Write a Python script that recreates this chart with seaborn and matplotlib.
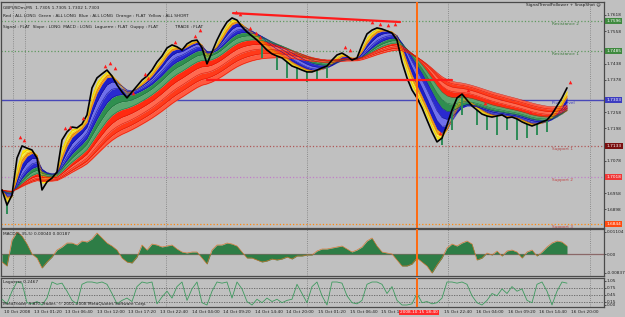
import numpy as np
import pandas as pd
import matplotlib
matplotlib.use("Agg")
import matplotlib.pyplot as plt
import matplotlib.transforms as mtransforms
from matplotlib import font_manager
import seaborn as sns

# ---------------- data ----------------
close = [1.6970, 1.6914, 1.6951, 1.7088, 1.7133, 1.7125, 1.7118, 1.7088, 1.6970, 1.7000,
         1.7014, 1.7037, 1.7155, 1.7185, 1.7203, 1.7200, 1.7214, 1.7248, 1.7348, 1.7385,
         1.7400, 1.7414, 1.7392, 1.7359, 1.7333, 1.7311, 1.7333, 1.7355, 1.7377, 1.7392,
         1.7414, 1.7444, 1.7466, 1.7496, 1.7507, 1.7500, 1.7488, 1.7511, 1.7522, 1.7525,
         1.7496, 1.7437, 1.7481, 1.7525, 1.7562, 1.7592, 1.7607, 1.7599, 1.7574, 1.7555,
         1.7540, 1.7525, 1.7507, 1.7488, 1.7474, 1.7466, 1.7459, 1.7444, 1.7429, 1.7422,
         1.7414, 1.7407, 1.7407, 1.7414, 1.7422, 1.7429, 1.7451, 1.7470, 1.7477, 1.7466,
         1.7451, 1.7459, 1.7507, 1.7548, 1.7562, 1.7570, 1.7566, 1.7559, 1.7551, 1.7525,
         1.7444, 1.7385, 1.7340, 1.7311, 1.7274, 1.7229, 1.7185, 1.7148, 1.7162, 1.7211,
         1.7266, 1.7311, 1.7325, 1.7303, 1.7281, 1.7266, 1.7251, 1.7244, 1.7240, 1.7244,
         1.7248, 1.7237, 1.7240, 1.7233, 1.7222, 1.7214, 1.7207, 1.7214, 1.7222, 1.7229,
         1.7251, 1.7281, 1.7311, 1.7348]

macd = [-0.004, -0.006, 0.007, 0.011, 0.009, 0.005, 0.0, -0.002, -0.007, -0.004,
        -0.0015, 0.002, 0.0035, 0.0055, 0.0055, 0.0045, 0.0065, 0.006, 0.0075, 0.0105,
        0.008, 0.0055, 0.004, 0.002, -0.002, -0.004, -0.0045, -0.0015, 0.0045, 0.002,
        0.005, 0.0045, 0.0035, 0.004, 0.0045, 0.0025, 0.001, 0.0005, 0.001, 0.001,
        -0.002, -0.005, 0.002, 0.0045, 0.0045, 0.0055, 0.005, 0.004, 0.001, -0.002,
        -0.002, -0.003, -0.004, -0.0035, -0.0025, -0.003, -0.0025, -0.0015, -0.0025, -0.001,
        -0.001, -0.0005, -0.0005, 0.0015, 0.0025, 0.0025, 0.003, 0.0035, 0.004, 0.0025,
        0.001, 0.002, 0.0035, 0.0065, 0.008, 0.004, 0.001, 0.0005, 0.0, -0.003,
        -0.006, -0.006, -0.005, -0.002, -0.004, -0.006, -0.0095, -0.0055, -0.002, 0.003,
        0.005, 0.004, 0.0055, 0.0065, 0.005, -0.003, -0.002, 0.0005, -0.0005, 0.0015,
        -0.001, 0.0015, 0.002, 0.001, -0.002, 0.001, 0.002, -0.001, 0.001, 0.0035,
        0.0055, 0.0065, 0.006, 0.004]

laguerre = [0.25, 0.05, 0.6, 1.0, 0.95, 0.1, 0.05, 0.15, 0.0, 0.3,
            1.0, 0.9, 0.95, 0.6, 0.2, 0.05, 0.9, 1.0, 1.0, 0.95,
            1.0, 0.9, 0.5, 0.05, 0.2, 0.3, 0.15, 0.8, 1.0, 0.95,
            1.0, 0.05, 0.35, 0.6, 0.3, 0.8, 1.0, 0.2, 0.7, 1.0,
            0.1, 0.0, 0.6, 1.0, 0.95, 1.0, 0.3, 1.0, 0.7, 0.15,
            0.0, 0.25, 0.1, 0.3, 0.15, 0.25, 0.1, 0.2, 0.25, 0.9,
            0.5, 0.1, 0.8, 1.0, 0.4, 0.0, 1.0, 1.0, 0.95, 0.4,
            0.1, 0.05, 0.2, 0.9, 1.0, 1.0, 0.9, 0.5, 0.8, 0.2,
            0.0, 0.0, 0.05, 0.5, 0.1, 0.15, 0.05, 0.1, 0.3, 1.0,
            1.0, 0.95, 1.0, 0.9, 0.4, 0.1, 0.0, 0.2, 0.5, 0.4,
            0.7, 0.5, 0.8, 0.6, 0.7, 0.2, 0.1, 0.9, 1.0, 0.6,
            0.0, 0.6, 1.0, 0.95]

fractal_idx = [3.6, 4.4, 12.6, 13.6, 16.2, 20.6, 21.6, 22.6, 26.2, 28.6, 29.2, 34.6, 38.6,
               39.6, 46.8, 47.6, 49.6, 50.8, 51.6, 68.6, 69.6, 74.0, 75.6, 77.2, 78.6,
               87.6, 93.2, 96.6, 105.6, 113.6]
fractal_price = [1.7166, 1.7155, 1.7200, 1.7203, 1.7237, 1.7429, 1.7440, 1.7422, 1.7329,
                 1.7399, 1.7385, 1.7518, 1.7540, 1.7562, 1.7629, 1.7622, 1.7570, 1.7551,
                 1.7537, 1.7499, 1.7488, 1.7592, 1.7585, 1.7581, 1.7585, 1.7181, 1.7340,
                 1.7292, 1.7259, 1.7370]

green_idx = [1, 52, 55, 57, 59, 61, 63, 65, 88, 90, 92, 95, 97, 99, 101, 103, 105, 107, 109]
green_low = [1.6880, 1.7459, 1.7414, 1.7385, 1.7377, 1.7370, 1.7377, 1.7385, 1.7137, 1.7192,
             1.7248, 1.7211, 1.7192, 1.7174, 1.7192, 1.7155, 1.7162, 1.7174, 1.7185]

level_names = ["Resistance 2", "Resistance 1", "Pivot Level", "Support 1", "Support 2", "Support 3"]
level_prices = [1.7596, 1.7485, 1.7303, 1.7133, 1.7018, 1.6844]
level_box_text = ["1.7596", "1.7485", "1.7303", "1.7133", "1.7018", "1.6844"]

price_ticks = [1.7618, 1.7558, 1.7438, 1.7378, 1.7258, 1.7198, 1.7078, 1.6958, 1.6898]
macd_ticks = [0.01104, 0.0, -0.0095]
macd_tick_labels = ["0.01104", "0.00", "-0.00837"]
lag_ticks = [1.05, 0.75, 0.45, 0.15, 0.0]
lag_tick_labels = ["1.05", "0.75", "0.45", "0.15", "0.00"]

time_labels = ["10 Oct 2008", "13 Oct 01:20", "13 Oct 06:40", "13 Oct 12:00", "13 Oct 17:20",
               "13 Oct 22:40", "14 Oct 04:00", "14 Oct 09:20", "14 Oct 14:40", "14 Oct 20:00",
               "15 Oct 01:20", "15 Oct 06:40", "15 Oct 12:00", "", "15 Oct 22:40",
               "16 Oct 04:00", "16 Oct 09:20", "16 Oct 14:40", "16 Oct 20:00"]
cursor_idx = 83.0
cursor_label = "2008.10.15 18:40"

trend1_idx = [46.2, 79.6]
trend1_price = [1.7625, 1.7592]
trend2_idx = [41.0, 90.0]
trend2_price = [1.7377, 1.7377]

header1 = "GBPUSDm,M5  1.7305 1.7305 1.7302 1.7303"
header2 = "Red : ALL LONG  Green : ALL LONG  Blue : ALL LONG  Orange : FLAT  Yellow : ALL SHORT"
header3 = "Signal : FLAT  Slope : LONG  MACD : LONG  Laguerre : FLAT  Guppy : FLAT"
header3b = "TRADE : FLAT"
title_right = "SignalTrendFollower + SnapShot \u263a"
macd_title = "MACD(5,35,5) 0.00040 0.00187"
lag_title = "Laguerre 0.2467"
copyright = "MetaTrader 4 ATC Trader, \u00a9 2001-2008 MetaQuotes Software Corp."

# ---------------- style ----------------
BG = "#c0c0c0"
sns.set_theme(style="white")
names = {f.name for f in font_manager.fontManager.ttflist}
if "Liberation Sans Narrow" in names:
    FONT, FS = "Liberation Sans Narrow", 3.9
else:
    FONT, FS = "DejaVu Sans", 3.1
plt.rcParams["font.family"] = [FONT, "DejaVu Sans"]
W, H = 625, 317

fig = plt.figure(figsize=(6.25, 3.17), dpi=100, facecolor=BG)


def rect(x0, y0, x1, y1):
    return [x0 / W, 1 - y1 / H, (x1 - x0) / W, (y1 - y0) / H]


ax_p = fig.add_axes(rect(1, 2, 604, 228))
ax_m = fig.add_axes(rect(1, 229, 604, 276))
ax_l = fig.add_axes(rect(1, 278, 604, 307))

idx = np.arange(len(close))
XL = (-0.2, 120.4)
for ax in (ax_p, ax_m, ax_l):
    ax.set_facecolor(BG)
    ax.set_xlim(*XL)
    for sp in ax.spines.values():
        sp.set_color("#4a4a4a")
        sp.set_linewidth(0.9)
    ax.yaxis.tick_right()
    ax.tick_params(axis="y", labelsize=FS, length=1.5, width=0.5, pad=0.6,
                   colors="#202020", direction="out")
    ax.set_xticks([])
    for gx in (2.2, 4.6, 32.8, 61.0, 89.2, 117.6):
        ax.axvline(gx, color="#7a7a7a", lw=0.6, ls=(0, (1, 1.6)), zorder=0.5)

# ---------------- main pane ----------------
ax_p.set_ylim(1.68291, 1.76661)
ax_p.set_yticks(price_ticks)
ax_p.set_yticklabels([f"{v:.4f}" for v in price_ticks])

level_line = [("#5f9a5f", ":"), ("#5f9a5f", ":"), ("#4848b8", "-"),
              ("#b05858", ":"), ("#c080c8", ":"), ("#ff8a10", ":")]
level_box = ["#3f8a3f", "#3f8a3f", "#3c3cc0", "#7a1010", "#f03838", "#ff4a10"]
level_text_col = ["#3c7a3c", "#3c7a3c", "#3c3cc0", "#b04848", "#c04848", "#c04848"]
ytr = mtransforms.blended_transform_factory(ax_p.transAxes, ax_p.transData)
for name, p, (lc, ls), bc, tc, bt in zip(level_names, level_prices, level_line,
                                          level_box, level_text_col, level_box_text):
    ax_p.axhline(p, color=lc, lw=1.0 if ls == "-" else 0.9, ls=ls, zorder=1)
    off = mtransforms.offset_copy(ax_p.transData, fig=fig, y=-3, units="dots")
    ax_p.text(110.0, p, name, transform=off, fontsize=FS, color=tc,
              ha="left", va="center", zorder=1.2)
    ax_p.text(1.004, p, bt, transform=ytr, fontsize=FS, color="white", ha="left",
              va="center", clip_on=False, zorder=10,
              bbox=dict(boxstyle="square,pad=0.25", fc=bc, ec="none"))

# Guppy style ribbon of EMAs computed from the close series
s = pd.Series(close)
spans = [1.5, 2.0, 2.5, 2.9, 3.3, 5.0, 7.0, 9.5, 12.5, 16.0, 20.0, 24.0, 28.0, 32.0]
band_cols = ["#ffe800", "#fff24a", "#ff9a00", "#ffb020",
             "#1e1ec8", "#7070ea", "#2a2ad0",
             "#2f8f4f", "#5aa870",
             "#ff2a10", "#ff6a50", "#ff3a1a", "#ff5a40"]
line_cols = ["#e0c000", "#e0c000", "#e07800", "#e07800",
             "#10109a", "#10109a", "#10109a",
             "#1f6f3a", "#1f6f3a",
             "#e01000", "#e01000", "#e01000", "#e01000"]
emas = [s.ewm(span=sp, adjust=False).mean().values for sp in spans]
for k in range(len(spans) - 1):
    ax_p.fill_between(idx, emas[k], emas[k + 1], color=band_cols[k], lw=0, zorder=2)
    ax_p.plot(idx, emas[k + 1], color=line_cols[k], lw=0.35, zorder=2.1)

ax_p.vlines(green_idx, green_low, [close[int(i)] for i in green_idx],
            color="#2e8b57", lw=1.4, zorder=3)
sns.lineplot(x=idx, y=close, ax=ax_p, color="black", linewidth=1.2, zorder=5)
ax_p.scatter(fractal_idx, fractal_price, marker="^", s=7, color="#ff1a1a",
             linewidths=0, zorder=6)
ax_p.plot(trend1_idx, trend1_price, color="#ff1a1a", lw=1.6, zorder=7)
ax_p.plot(trend2_idx, trend2_price, color="#ff1a1a", lw=1.6, zorder=7)

ax_p.text(0.003, 0.975, header1, transform=ax_p.transAxes, fontsize=FS, color="#202020",
          ha="left", va="center")
ax_p.text(0.003, 0.938, header2, transform=ax_p.transAxes, fontsize=FS, color="#202020",
          ha="left", va="center")
ax_p.text(0.003, 0.889, header3, transform=ax_p.transAxes, fontsize=FS, color="#202020",
          ha="left", va="center")
ax_p.text(0.289, 0.889, header3b, transform=ax_p.transAxes, fontsize=FS, color="#202020",
          ha="left", va="center")
ax_p.text(0.995, 0.985, title_right, transform=ax_p.transAxes, fontsize=FS, color="#202020",
          ha="right", va="center")

# ---------------- MACD pane ----------------
ax_m.set_ylim(-0.011, 0.0125)
ax_m.set_yticks(macd_ticks)
ax_m.set_yticklabels(macd_tick_labels)
ax_m.axhline(0, color="#8a6868", lw=0.9, zorder=1)
ax_m.fill_between(idx, 0, macd, color="#2e7d46", lw=0, zorder=2)
sns.lineplot(x=idx, y=macd, ax=ax_m, color="#d8742a", linewidth=0.45, zorder=3)
ax_m.text(0.003, 0.9, macd_title, transform=ax_m.transAxes, fontsize=FS, color="#202020",
          ha="left", va="center")

# ---------------- Laguerre pane ----------------
ax_l.set_ylim(-0.087, 1.174)
ax_l.set_yticks(lag_ticks)
ax_l.set_yticklabels(lag_tick_labels)
for lv in (0.75, 0.45, 0.15):
    ax_l.axhline(lv, color="#606060", lw=0.6, ls=(0, (1.5, 1.5)), zorder=1)
sns.lineplot(x=idx, y=laguerre, ax=ax_l, color="#3f9a5f", linewidth=0.6, zorder=3)
ax_l.text(0.003, 0.85, lag_title, transform=ax_l.transAxes, fontsize=FS, color="#202020",
          ha="left", va="center")
ax_l.text(0.003, 0.12, copyright, transform=ax_l.transAxes, fontsize=FS, color="#202020",
          ha="left", va="center")

# time axis
tick_pos = [6.32 * k - 0.3 for k in range(len(time_labels))]
ax_l.set_xticks([t for t in tick_pos if t > XL[0]])
ax_l.set_xticklabels([])
ax_l.tick_params(axis="x", length=2, width=0.5, colors="#303030", direction="out")
xtr = mtransforms.blended_transform_factory(ax_l.transData, ax_l.transAxes)
for t, lab in zip(tick_pos, time_labels):
    if lab:
        ax_l.text(max(t, 0.0) + 0.3, -0.12, lab, transform=xtr, fontsize=FS, color="#202020",
                  ha="left", va="top", clip_on=False)

# cursor line across panes
for ax in (ax_p, ax_m, ax_l):
    ax.axvline(cursor_idx, color="#ff6a10", lw=1.4, zorder=8)
ax_l.text(cursor_idx + 0.4, -0.12, cursor_label, transform=xtr, fontsize=FS, color="white",
          ha="center", va="top", clip_on=False, zorder=12,
          bbox=dict(boxstyle="square,pad=0.2", fc="#ff2a2a", ec="none"))

for ax in (ax_p, ax_m, ax_l):
    ax.set_xlabel("")
    ax.set_ylabel("")
    leg = ax.get_legend()
    if leg:
        leg.remove()

fig.savefig("out.png", dpi=100, facecolor=BG)
